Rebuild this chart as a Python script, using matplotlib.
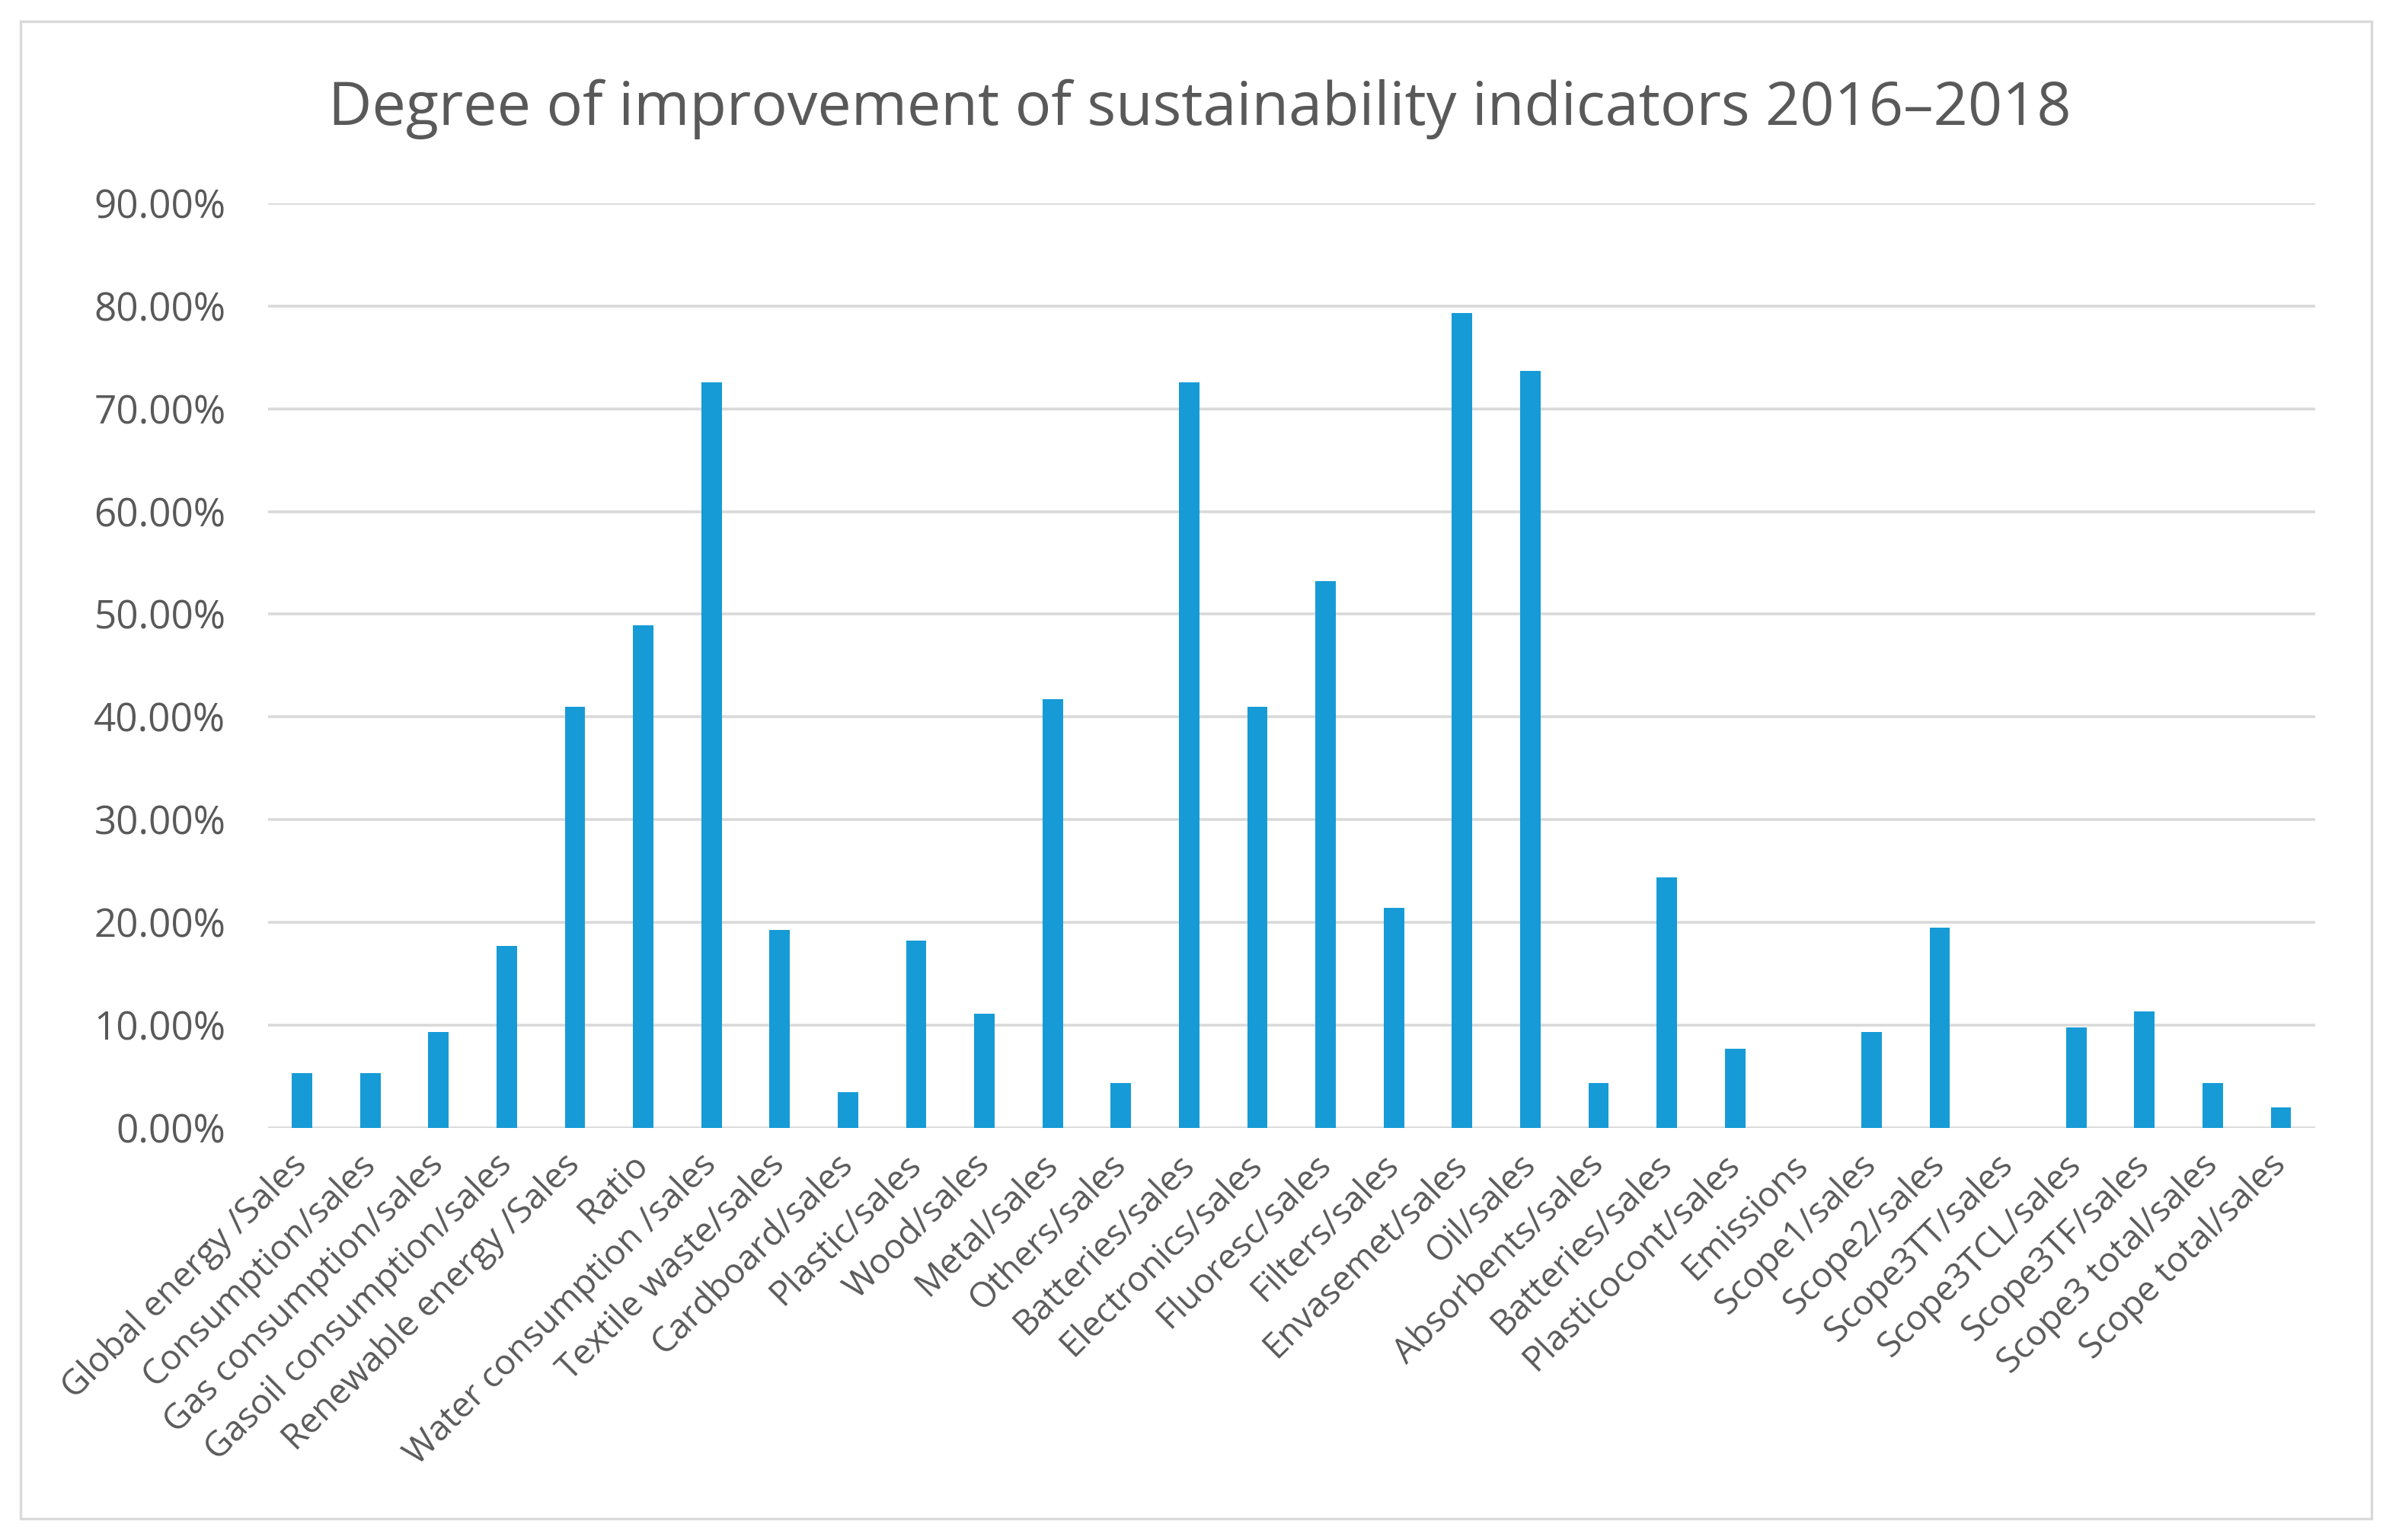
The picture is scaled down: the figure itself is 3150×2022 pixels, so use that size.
import numpy as np
import matplotlib.pyplot as plt
from matplotlib.patches import Rectangle
from matplotlib.ticker import FuncFormatter

plt.rcParams['font.family'] = ['Open Sans', 'DejaVu Sans']

categories = ['Global energy /Sales', 'Consumption/sales', 'Gas consumption/sales',
              'Gasoil consumption/sales', 'Renewable energy /Sales', 'Ratio',
              'Water consumption /sales', 'Textile waste/sales', 'Cardboard/sales',
              'Plastic/sales', 'Wood/sales', 'Metal/sales', 'Others/sales',
              'Batteries/sales', 'Electronics/sales', 'Fluoresc/sales', 'Filters/sales',
              'Envasemet/sales', 'Oil/sales', 'Absorbents/sales', 'Batteries/sales',
              'Plasticocont/sales', 'Emissions', 'Scope1/sales', 'Scope2/sales',
              'Scope3TT/sales', 'Scope3TCL/sales', 'Scope3TF/sales',
              'Scope3 total/sales', 'Scope total/sales']
values = [5.3, 5.3, 9.3, 17.7, 41.0, 48.9, 72.6, 19.3, 3.5, 18.2, 11.1, 41.7, 4.4,
          72.6, 41.0, 53.2, 21.4, 79.3, 73.7, 4.4, 24.4, 7.7, 0.0, 9.3, 19.5,
          0.0, 9.8, 11.3, 4.4, 2.0]

fig = plt.figure(figsize=(15.75, 10.11), dpi=200)
fig.patches.append(Rectangle((0.0085, 0.014), 0.98, 0.972, transform=fig.transFigure,
                             fill=False, edgecolor='#d9d9d9', linewidth=1.2))
ax = fig.add_axes([0.1117, 0.2676, 0.8533, 0.6004])

x = np.arange(len(categories))
ax.bar(x, [v / 100 for v in values], width=0.3, color='#169bd7', zorder=3)

ax.set_xlim(-0.5, len(categories) - 0.5)
ax.set_ylim(0, 0.9)
ax.set_yticks(np.arange(0, 0.91, 0.1))
ax.yaxis.set_major_formatter(FuncFormatter(lambda v, p: f'{v * 100:.2f}%'))
ax.grid(axis='y', color='#d9d9d9', linewidth=1.3, zorder=0)
for s in ax.spines.values():
    s.set_visible(False)
ax.tick_params(axis='both', length=0, colors='#595959', labelsize=16.5)
ax.tick_params(axis='y', pad=20, labelsize=18.4)

ax.set_xticks(x)
ax.set_xticklabels(categories, rotation=45, ha='right', va='center',
                   rotation_mode='anchor')
ax.tick_params(axis='x', pad=15)

fig.text(0.5, 0.929, 'Degree of improvement of sustainability indicators 2016\u20132018',
         ha='center', va='center', fontsize=28.5, color='#595959')

plt.savefig('out.png', dpi=200)
